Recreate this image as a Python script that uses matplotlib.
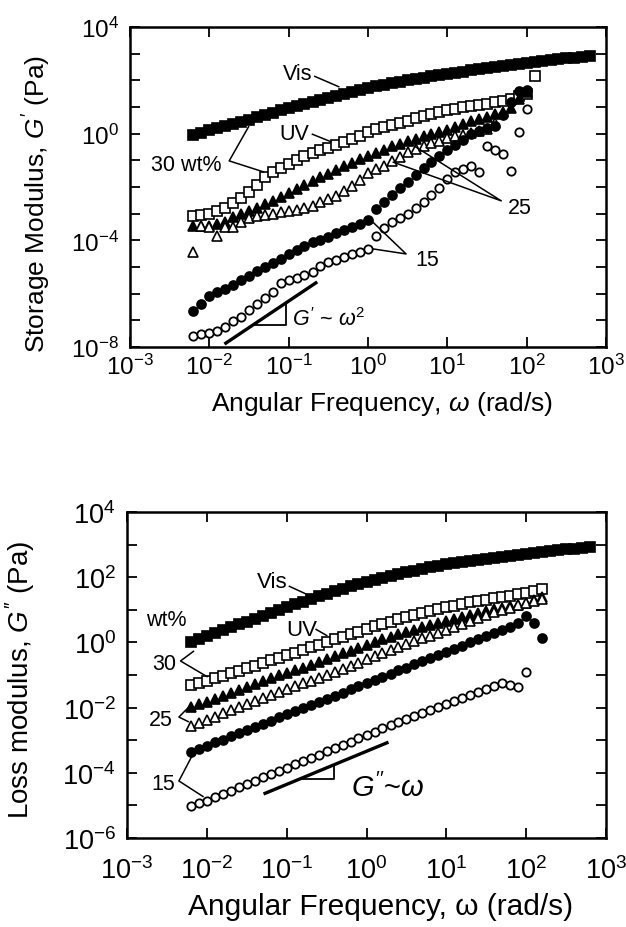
import numpy as np
import matplotlib
matplotlib.use('Agg')
import matplotlib.pyplot as plt

plt.rcParams['font.family'] = ['Liberation Sans', 'DejaVu Sans']
plt.rcParams['mathtext.fontset'] = 'custom'
plt.rcParams['mathtext.rm'] = 'Liberation Sans'
plt.rcParams['mathtext.it'] = 'Liberation Sans:italic'
plt.rcParams['axes.unicode_minus'] = False

# angular frequency grid of the sweep (rad/s), 10 points per decade
freq = [0.0063, 0.0079, 0.01, 0.0126, 0.0158, 0.02, 0.0251, 0.0316, 0.0398, 0.0501,
        0.063, 0.079, 0.1, 0.126, 0.158, 0.2, 0.251, 0.316, 0.398, 0.501,
        0.63, 0.79, 1.0, 1.26, 1.58, 2.0, 2.51, 3.16, 3.98, 5.01,
        6.3, 7.9, 10, 12.6, 15.8, 20, 25.1, 31.6, 39.8, 50.1,
        63, 79, 100, 126, 158, 200, 251, 316, 398, 501, 631]

# storage modulus G' (log10 Pa)
gp_vis30 = [-0.05, 0.04, 0.12, 0.2, 0.28, 0.36, 0.45, 0.53, 0.62, 0.7,
            0.79, 0.87, 0.96, 1.04, 1.12, 1.2, 1.28, 1.35, 1.43, 1.5,
            1.57, 1.64, 1.7, 1.77, 1.83, 1.89, 1.95, 2.0, 2.05, 2.1,
            2.15, 2.2, 2.24, 2.29, 2.33, 2.38, 2.42, 2.46, 2.5, 2.54,
            2.58, 2.62, 2.65, 2.69, 2.72, 2.76, 2.79, 2.82, 2.85, 2.88, 2.91]
gp_uv30 = [-3.09, -3.05, -3.0, -2.9, -2.78, -2.6, -2.4, -2.17, -1.93, -1.62,
           -1.42, -1.27, -1.12, -0.97, -0.83, -0.71, -0.61, -0.53, -0.43, -0.32,
           -0.19, -0.07, 0.06, 0.16, 0.25, 0.33, 0.41, 0.49, 0.57, 0.65,
           0.73, 0.8, 0.87, 0.93, 0.99, 1.04, 1.09, 1.13, 1.17, 1.22,
           1.3, 1.4, 1.5, 2.16]
gp_vis25 = [-3.46, -3.46, -3.46, -3.4, -3.3, -3.12, -3.0, -2.9, -2.78, -2.65,
            -2.52, -2.37, -2.22, -2.07, -1.92, -1.78, -1.64, -1.5, -1.37, -1.23,
            -1.1, -0.95, -0.83, -0.72, -0.6, -0.48, -0.38, -0.28, -0.19, -0.1,
            -0.02, 0.06, 0.15, 0.25, 0.36, 0.46, 0.55, 0.64, 0.72, 0.8,
            0.95, 1.3, 1.55]
gp_uv25 = [-4.45, -3.45, -3.5, -3.84, -3.5, -3.5, -3.3, -3.15, -3.1, -3.06,
           -3.0, -2.95, -2.91, -2.86, -2.79, -2.7, -2.57, -2.46, -2.33, -2.15,
           -1.97, -1.72, -1.48, -1.33, -1.2, -1.02, -0.86, -0.7, -0.56, -0.45,
           -0.35, -0.26, -0.17, -0.1, -0.04, 0.03, 0.1, 0.18, 0.4]
gp_vis15 = [-6.65, -6.4, -6.1, -5.95, -5.82, -5.66, -5.48, -5.32, -5.15, -5.0,
            -4.85, -4.7, -4.52, -4.35, -4.2, -4.08, -3.97, -3.86, -3.74, -3.62,
            -3.49, -3.38, -3.25, -2.82, -2.58, -2.3, -2.05, -1.8, -1.55, -1.3,
            -1.08, -0.84, -0.62, -0.43, -0.22, -0.02, 0.1, 0.2, 0.29, 0.7,
            1.2, 1.6, 1.62]
gp_uv15 = [-7.6, -7.52, -7.46, -7.4, -7.26, -7.04, -6.86, -6.62, -6.4, -6.18,
           -5.95, -5.6, -5.5, -5.4, -5.3, -5.17, -4.98, -4.82, -4.72, -4.62,
           -4.5, -4.42, -4.33, -3.84, -3.52, -3.3, -3.15, -3.0, -2.78, -2.55,
           -2.3, -2.02, -1.7, -1.45, -1.33, -1.22, -1.44, -0.46, -0.62, -0.78,
           -1.4, 0.06, 0.93]

# loss modulus G'' (log10 Pa)
gpp_vis30 = [0.0, 0.1, 0.2, 0.29, 0.38, 0.46, 0.55, 0.64, 0.73, 0.82,
             0.91, 1.0, 1.09, 1.17, 1.25, 1.33, 1.41, 1.49, 1.57, 1.65,
             1.72, 1.79, 1.86, 1.92, 1.98, 2.04, 2.1, 2.15, 2.2, 2.25,
             2.3, 2.35, 2.39, 2.43, 2.47, 2.51, 2.54, 2.57, 2.6, 2.63,
             2.66, 2.69, 2.71, 2.74, 2.76, 2.79, 2.82, 2.85, 2.87, 2.9, 2.93]
gpp_uv30 = [-1.3, -1.25, -1.18, -1.1, -1.02, -0.95, -0.87, -0.79, -0.71, -0.63,
            -0.55, -0.47, -0.39, -0.31, -0.23, -0.15, -0.07, 0.01, 0.09, 0.17,
            0.25, 0.33, 0.41, 0.49, 0.57, 0.64, 0.71, 0.78, 0.84, 0.9,
            0.96, 1.02, 1.08, 1.13, 1.18, 1.23, 1.27, 1.31, 1.35, 1.39,
            1.43, 1.48, 1.53, 1.58, 1.64]
gpp_vis25 = [-1.98, -1.9, -1.82, -1.73, -1.64, -1.55, -1.46, -1.37, -1.28, -1.19,
             -1.1, -1.01, -0.93, -0.85, -0.77, -0.69, -0.6, -0.52, -0.43, -0.34,
             -0.26, -0.17, -0.08, 0.01, 0.09, 0.17, 0.25, 0.32, 0.39, 0.46,
             0.53, 0.6, 0.67, 0.73, 0.79, 0.85, 0.91, 0.96, 1.01, 1.06,
             1.11, 1.16, 1.22, 1.3, 1.38]
gpp_uv25 = [-2.56, -2.48, -2.38, -2.28, -2.18, -2.08, -1.98, -1.88, -1.79, -1.7,
            -1.61, -1.52, -1.43, -1.35, -1.26, -1.17, -1.08, -0.99, -0.9, -0.81,
            -0.72, -0.62, -0.52, -0.42, -0.33, -0.24, -0.15, -0.06, 0.03, 0.12,
            0.21, 0.3, 0.39, 0.48, 0.57, 0.66, 0.75, 0.84, 0.92, 1.0,
            1.07, 1.14, 1.21, 1.27, 1.33]
gpp_vis15 = [-3.36, -3.26, -3.17, -3.07, -2.98, -2.88, -2.78, -2.69, -2.59, -2.5,
             -2.4, -2.3, -2.21, -2.11, -2.02, -1.92, -1.82, -1.73, -1.63, -1.54,
             -1.44, -1.34, -1.25, -1.15, -1.06, -0.96, -0.86, -0.77, -0.67, -0.58,
             -0.48, -0.38, -0.29, -0.19, -0.1, 0.0, 0.09, 0.19, 0.28, 0.38,
             0.47, 0.6, 0.8, 0.6, 0.15]
gpp_uv15 = [-5.03, -4.94, -4.85, -4.75, -4.65, -4.55, -4.45, -4.34, -4.24, -4.14,
            -4.04, -3.94, -3.84, -3.74, -3.64, -3.54, -3.44, -3.34, -3.24, -3.14,
            -3.04, -2.94, -2.84, -2.74, -2.64, -2.54, -2.44, -2.35, -2.26, -2.17,
            -2.07, -1.98, -1.89, -1.8, -1.7, -1.61, -1.52, -1.42, -1.33, -1.24,
            -1.3, -1.37, -0.9]

x_exps = [-3, -2, -1, 0, 1, 2, 3]
top_y_exps = list(range(-8, 5))
bot_y_exps = list(range(-6, 5))


def series(ax, logs, marker, filled, ms, mew=1.2):
    x = freq[:len(logs)]
    y = np.power(10.0, logs)
    ax.plot(x, y, ls='none', marker=marker, ms=ms, mew=mew,
            mec='black', mfc='black' if filled else 'white')


def lead(ax, pts, lw=1.1):
    xs = [10 ** p[0] for p in pts]
    ys = [10 ** p[1] for p in pts]
    ax.plot(xs, ys, color='black', lw=lw, solid_capstyle='butt')


def at(lx, ly):
    return 10 ** lx, 10 ** ly


def style(ax, yexps, ylabeled, fs, xpad):
    ax.set_xscale('log')
    ax.set_yscale('log')
    ax.set_xlim(1e-3, 1e3)
    ax.set_ylim(10.0 ** yexps[0], 10.0 ** yexps[-1])
    ax.set_xticks([10.0 ** e for e in x_exps])
    ax.set_xticklabels([r'$\mathregular{10^{%d}}$' % e for e in x_exps])
    ax.set_yticks([10.0 ** e for e in yexps])
    ax.set_yticklabels([r'$\mathregular{10^{%d}}$' % e if e in ylabeled else '' for e in yexps])
    ax.minorticks_off()
    ax.tick_params(which='both', direction='in', top=True, right=True,
                   length=7, width=1.3, labelsize=fs)
    ax.tick_params(axis='y', pad=8)
    ax.tick_params(axis='x', pad=xpad)
    for s in ax.spines.values():
        s.set_linewidth(1.8)


def draw_series(ax, vis30, uv30, vis25, uv25, vis15, uv15):
    series(ax, vis30, 's', True, 7.2)
    series(ax, uv30, 's', False, 6.6)
    series(ax, vis25, '^', True, 7.5)
    series(ax, uv25, '^', False, 6.9)
    series(ax, vis15, 'o', True, 6.5)
    series(ax, uv15, 'o', False, 6.0, 1.3)


fig = plt.figure(figsize=(6.26, 9.28), dpi=100)

# ---------------- storage modulus ----------------
ax1 = fig.add_axes([0.2077, 0.625, 0.7604, 0.3448])
draw_series(ax1, gp_vis30, gp_uv30, gp_vis25, gp_uv25, gp_vis15, gp_uv15)
style(ax1, top_y_exps, [4, 0, -4, -8], 17.5, 5)

ax1.text(*at(-0.89, 2.24), 'Vis', fontsize=15.5, ha='center', va='center')
lead(ax1, [(-0.68, 2.16), (-0.36, 1.75)])
ax1.text(*at(-0.93, -0.01), 'UV', fontsize=15.5, ha='center', va='center')
lead(ax1, [(-0.71, -0.01), (-0.46, -0.31)])
ax1.text(*at(-2.29, -1.14), '30 wt%', fontsize=15.5, ha='center', va='center')
lead(ax1, [(-1.5, 0.29), (-1.75, -1.02), (-1.31, -1.44)])
ax1.text(*at(1.91, -2.75), '25', fontsize=15.5, ha='center', va='center')
lead(ax1, [(0.48, -0.27), (1.68, -2.52), (0.31, -1.06)])
ax1.text(*at(0.75, -4.7), '15', fontsize=15.5, ha='center', va='center')
lead(ax1, [(0.02, -3.2), (0.48, -4.51), (0.06, -4.32)])
lead(ax1, [(-1.81, -7.89), (-0.64, -5.56)], lw=2.4)
lead(ax1, [(-1.45, -7.17), (-1.03, -7.17), (-1.03, -6.33)], lw=1.3)
ax1.text(*at(-0.955, -6.95), r"$G'$ ~ $\omega^2$", fontsize=15.5, ha='left', va='center')

ax1.set_ylabel(r"Storage Modulus, $G'$ (Pa)", fontsize=19)
ax1.set_xlabel(r'Angular Frequency, $\omega$ (rad/s)', fontsize=19)
ax1.yaxis.set_label_coords(-0.162, 0.45)
ax1.xaxis.set_label_coords(0.53, -0.13)

# ---------------- loss modulus ----------------
ax2 = fig.add_axes([0.2029, 0.0959, 0.7652, 0.3513])
draw_series(ax2, gpp_vis30, gpp_uv30, gpp_vis25, gpp_uv25, gpp_vis15, gpp_uv15)
style(ax2, bot_y_exps, [4, 2, 0, -2, -4, -6], 19.5, 13)

ax2.text(*at(-1.175, 1.88), 'Vis', fontsize=16, ha='center', va='center')
lead(ax2, [(-0.975, 1.73), (-0.7, 1.42)])
ax2.text(*at(-0.81, 0.41), 'UV', fontsize=16, ha='center', va='center')
lead(ax2, [(-0.64, 0.41), (-0.49, 0.2)])
ax2.text(*at(-2.51, 0.69), 'wt%', fontsize=15.5, ha='center', va='center')
ax2.text(*at(-2.54, -0.66), '30', fontsize=15.5, ha='center', va='center')
lead(ax2, [(-2.16, -0.26), (-2.33, -0.57), (-1.99, -1.06)])
ax2.text(*at(-2.575, -2.35), '25', fontsize=15.5, ha='center', va='center')
lead(ax2, [(-2.225, -1.98), (-2.35, -2.29), (-2.225, -2.44)])
ax2.text(*at(-2.55, -4.34), '15', fontsize=15.5, ha='center', va='center')
lead(ax2, [(-2.16, -3.36), (-2.35, -4.25), (-2.04, -4.74)])
lead(ax2, [(-1.29, -4.65), (0.275, -3.06)], lw=2.4)
lead(ax2, [(-0.83, -4.19), (-0.41, -4.19), (-0.41, -3.77)], lw=1.3)
ax2.text(*at(-0.2, -4.44), r"$G''$~$\omega$", fontsize=21, ha='left', va='center')

ax2.set_ylabel(r"Loss modulus, $G''$ (Pa)", fontsize=20)
ax2.set_xlabel('Angular Frequency, \u03c9 (rad/s)', fontsize=21.5)
ax2.yaxis.set_label_coords(-0.188, 0.49)
ax2.xaxis.set_label_coords(0.53, -0.166)

fig.savefig('out.png', dpi=100)
